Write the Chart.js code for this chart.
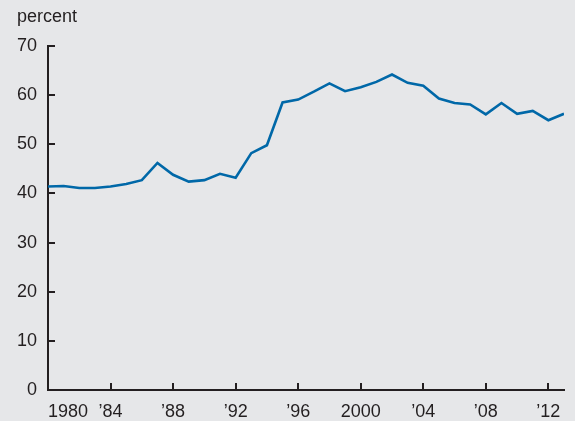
<!DOCTYPE html>
<html lang="en">
<head>
    <meta charset="UTF-8">
    <title>percent</title>
    <script src="https://cdn.jsdelivr.net/npm/chart.js"></script>
    <style>
        html, body { margin: 0; padding: 0; background: #e6e7e9; }
        #wrap { width: 575px; height: 421px; position: relative; }
    </style>
</head>
<body>
    <div id="wrap"><canvas id="chart" width="575" height="421"></canvas></div>

    <script>
        // data
        const years = [1980, 1981, 1982, 1983, 1984, 1985, 1986, 1987, 1988, 1989,
                       1990, 1991, 1992, 1993, 1994, 1995, 1996, 1997, 1998, 1999,
                       2000, 2001, 2002, 2003, 2004, 2005, 2006, 2007, 2008, 2009,
                       2010, 2011, 2012, 2013];
        const shares = [41.4, 41.5, 41.1, 41.1, 41.4, 41.9, 42.7, 46.2, 43.8, 42.4,
                        42.7, 44.0, 43.2, 48.2, 49.8, 58.5, 59.1, 60.7, 62.4, 60.8,
                        61.6, 62.7, 64.2, 62.5, 61.9, 59.3, 58.4, 58.1, 56.1, 58.4,
                        56.2, 56.8, 54.9, 56.2];
        const tickYears = [1980, 1984, 1988, 1992, 1996, 2000, 2004, 2008, 2012, 2013];
        const tickLabels = ['1980', '\u201984', '\u201988', '\u201992', '\u201996', '2000', '\u201904', '\u201908', '\u201912', ''];

        const ink = '#231f20';
        const font = { family: '"Liberation Sans", Arial, Helvetica, sans-serif', size: 18 };

        // inward tick marks + unit label
        const extras = {
            id: 'extras',
            afterDraw(chart) {
                const ctx = chart.ctx;
                const xs = chart.scales.x, ys = chart.scales.y;
                const area = chart.chartArea;
                ctx.save();
                ctx.strokeStyle = ink;
                ctx.lineWidth = 2;
                ys.ticks.forEach(t => {
                    if (t.value === 0) return;
                    const y = Math.round(ys.getPixelForValue(t.value));
                    ctx.beginPath();
                    ctx.moveTo(area.left, y);
                    ctx.lineTo(area.left + 7, y);
                    ctx.stroke();
                });
                xs.ticks.forEach(t => {
                    if (t.value === 1980 || t.value === 2013) return;
                    const x = Math.round(xs.getPixelForValue(t.value));
                    ctx.beginPath();
                    ctx.moveTo(x, area.bottom);
                    ctx.lineTo(x, area.bottom - 7);
                    ctx.stroke();
                });
                ctx.fillStyle = ink;
                ctx.font = '18px "Liberation Sans", Arial, sans-serif';
                ctx.textAlign = 'left';
                ctx.textBaseline = 'alphabetic';
                ctx.fillText('percent', 17, 22);
                ctx.restore();
            }
        };

        new Chart(document.getElementById('chart'), {
            type: 'line',
            data: {
                datasets: [{
                    data: years.map((yr, i) => ({ x: yr, y: shares[i] })),
                    borderColor: '#0068a8',
                    borderWidth: 2.6,
                    pointRadius: 0,
                    tension: 0,
                    fill: false
                }]
            },
            options: {
                responsive: false,
                animation: false,
                layout: { padding: { top: 46, right: 9, left: 0, bottom: 0 } },
                plugins: {
                    legend: { display: false },
                    tooltip: { enabled: false }
                },
                scales: {
                    x: {
                        type: 'linear',
                        min: 1980,
                        max: 2013,
                        afterBuildTicks: s => { s.ticks = tickYears.map(v => ({ value: v })); },
                        afterFit: s => { s.height = 31; },
                        grid: { display: false, drawTicks: false },
                        border: { display: true, color: ink, width: 2 },
                        ticks: {
                            autoSkip: false,
                            maxRotation: 0,
                            align: 'inner',
                            padding: 11,
                            color: ink,
                            font: font,
                            callback: v => tickLabels[tickYears.indexOf(v)]
                        }
                    },
                    y: {
                        min: 0,
                        max: 70,
                        afterFit: s => { s.width = 48; },
                        grid: { display: false, drawTicks: false },
                        border: { display: true, color: ink, width: 2 },
                        ticks: {
                            stepSize: 10,
                            padding: 11,
                            color: ink,
                            font: font
                        }
                    }
                }
            },
            plugins: [extras]
        });
    </script>
</body>
</html>
